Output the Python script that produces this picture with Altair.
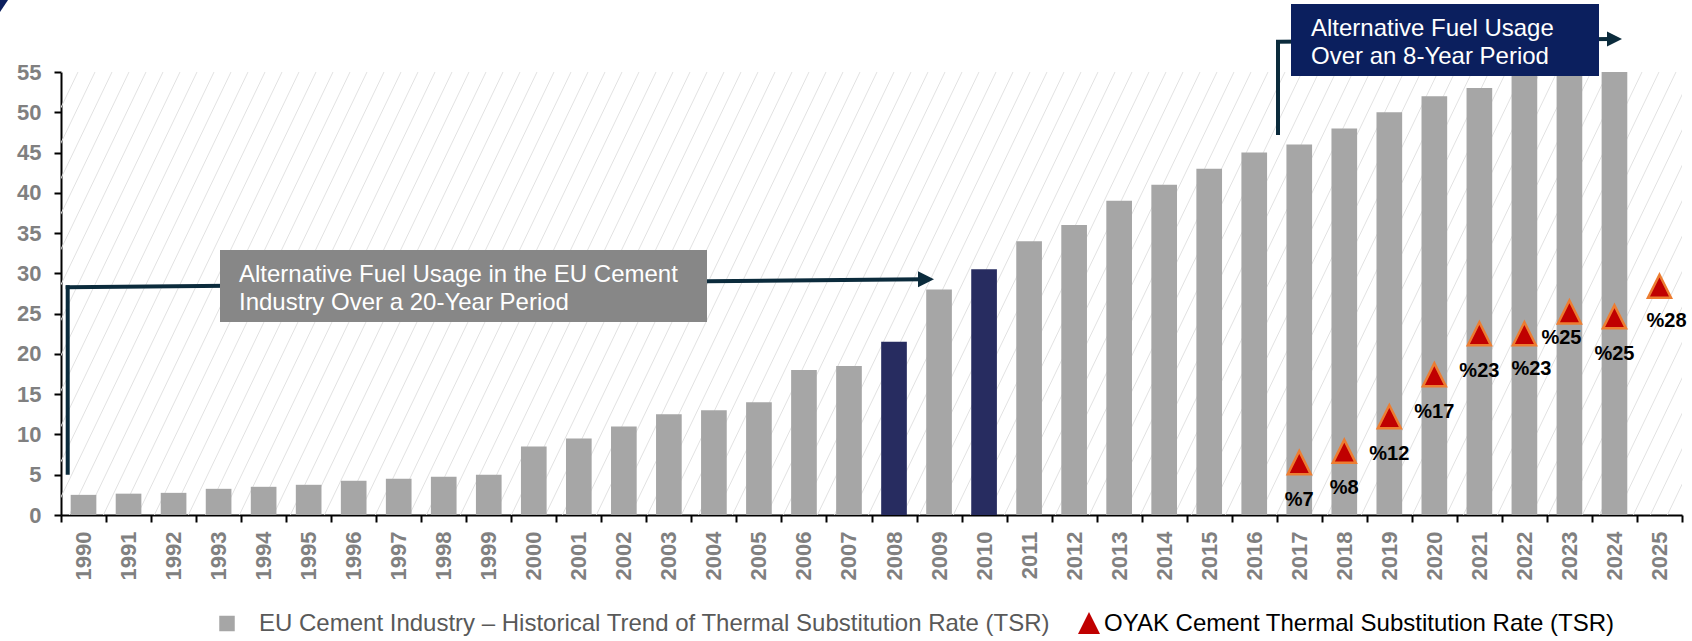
import altair as alt
import pandas as pd

# ---------------- data ----------------
YEARS = [str(y) for y in range(1990, 2026)]
EU_TSR = [2.5, 2.65, 2.75, 3.25, 3.5, 3.75, 4.25, 4.5, 4.75, 5.0,
          8.5, 9.5, 11.0, 12.5, 13.0, 14.0, 18.0, 18.5, 21.5, 28.0,
          30.5, 34.0, 36.0, 39.0, 41.0, 43.0, 45.0, 46.0, 48.0, 50.0,
          52.0, 53.0, 55.0, 55.0, 55.0, None]
HIGHLIGHT_YEARS = ["2008", "2010"]

OYAK_YEARS = ["2017", "2018", "2019", "2020", "2021", "2022", "2023", "2024", "2025"]
OYAK_TSR = [6.5, 7.9, 12.2, 17.4, 22.5, 22.5, 25.2, 24.6, 28.4]
OYAK_LABELS = ["%7", "%8", "%12", "%17", "%23", "%23", "%25", "%25", "%28"]

Y_TICKS = list(range(0, 56, 5))

LEGEND_EU = "EU Cement Industry \u2013 Historical Trend of Thermal Substitution Rate (TSR)"
LEGEND_OYAK = "OYAK Cement Thermal Substitution Rate (TSR)"
ANNOT_20Y = ["Alternative Fuel Usage in the EU Cement", "Industry Over a 20-Year Period"]
ANNOT_8Y = ["Alternative Fuel Usage", "Over an 8-Year Period"]

# ---------------- layout / style ----------------
W, H = 1621, 443
FONT = "Liberation Sans"
NAVY_LINE = "#0b2b3c"
BAR_GRAY = "#a6a6a6"
BAR_NAVY = "#272c60"
BOX_NAVY = "#0b1f5e"
BOX_GRAY = "#878787"

eu_df = pd.DataFrame({"year": YEARS, "tsr": EU_TSR}).dropna()
oyak_df = pd.DataFrame({"year": OYAK_YEARS, "tsr": OYAK_TSR, "label": OYAK_LABELS})

x_scale = alt.Scale(domain=YEARS, paddingInner=0, paddingOuter=0)
y_scale = alt.Scale(domain=[0, 55], nice=False)

x_axis = alt.Axis(
    title=None, labelAngle=-90, labelAlign="right", labelBaseline="middle",
    labelFont=FONT, labelFontSize=22, labelFontWeight="bold", labelColor="#808080",
    tickBand="extent", tickSize=7, tickColor="black", tickWidth=2,
    domainColor="black", domainWidth=2, labelPadding=9, grid=False,
)
y_axis = alt.Axis(
    title=None, values=Y_TICKS, labelFont=FONT, labelFontSize=22,
    labelFontWeight="bold", labelColor="#808080", tickSize=7, tickColor="black",
    tickWidth=2, domainColor="black", domainWidth=2, labelPadding=13, grid=False,
)

# background hatch (decoration, pixel space)
hatch = alt.Chart(alt.sequence(-20, 112, as_="k")).transform_calculate(
    xt="datum.k * 17", xb="datum.k * 17 - 0.48 * 443"
).mark_rule(color="#e2e2e2", strokeWidth=1, clip=True).encode(
    x=alt.X("xt:Q", scale=None, axis=None),
    x2="xb:Q",
    y=alt.value(0),
    y2=alt.value(H),
)

bars = alt.Chart(eu_df).mark_bar(width=alt.RelativeBandSize(0.57)).encode(
    x=alt.X("year:N", scale=x_scale, axis=x_axis, sort=YEARS),
    y=alt.Y("tsr:Q", scale=y_scale, axis=y_axis),
    color=alt.condition(
        alt.FieldOneOfPredicate(field="year", oneOf=HIGHLIGHT_YEARS),
        alt.value(BAR_NAVY), alt.value(BAR_GRAY)),
)

# ------------- annotation 1 (20-year) -------------
a1_v = alt.Chart().mark_rule(color=NAVY_LINE, strokeWidth=4, strokeCap="square").encode(
    x=alt.value(6.7), y=alt.value(215.3), y2=alt.value(400.7))
a1_h = alt.Chart().mark_rule(color=NAVY_LINE, strokeWidth=4, strokeCap="square").encode(
    x=alt.value(6.7), y=alt.value(215.3), x2=alt.value(860), y2=alt.value(207.2))
a1_head = alt.Chart().mark_point(shape="M-1,-1L1,0L-1,1Z", filled=True, opacity=1,
                                 color=NAVY_LINE, size=256).encode(
    x=alt.value(865), y=alt.value(207.2))
a1_box = alt.Chart().mark_rect(color=BOX_GRAY).encode(
    x=alt.value(159), x2=alt.value(646), y=alt.value(178), y2=alt.value(250))
a1_text = alt.Chart().mark_text(align="left", baseline="middle", font=FONT, fontSize=24,
                                lineHeight=28, color="white").encode(
    x=alt.value(178), y=alt.value(203), text=alt.value(ANNOT_20Y))

# ------------- annotation 2 (8-year) -------------
a2_v = alt.Chart().mark_rule(color=NAVY_LINE, strokeWidth=4, strokeCap="square").encode(
    x=alt.value(1217), y=alt.value(-30), y2=alt.value(61))
a2_h = alt.Chart().mark_rule(color=NAVY_LINE, strokeWidth=4, strokeCap="square").encode(
    x=alt.value(1217), y=alt.value(-30.3), x2=alt.value(1548), y2=alt.value(-33))
a2_head = alt.Chart().mark_point(shape="M-1,-1L1,0L-1,1Z", filled=True, opacity=1,
                                 color=NAVY_LINE, size=225).encode(
    x=alt.value(1553.5), y=alt.value(-33))
a2_box = alt.Chart().mark_rect(color=BOX_NAVY).encode(
    x=alt.value(1230), x2=alt.value(1538), y=alt.value(-68), y2=alt.value(4))
a2_text = alt.Chart().mark_text(align="left", baseline="middle", font=FONT, fontSize=24,
                                lineHeight=28, color="white").encode(
    x=alt.value(1250), y=alt.value(-43), text=alt.value(ANNOT_8Y))

# ------------- OYAK triangles + labels -------------
tri = alt.Chart(oyak_df).mark_point(
    shape="M0,-1L1,1L-1,1Z", filled=True, opacity=1, size=529,
    fill="#c00000", stroke="#ed7d31", strokeWidth=2.5,
).encode(
    x=alt.X("year:N", scale=x_scale, sort=YEARS),
    y=alt.Y("tsr:Q", scale=y_scale),
)

lab_base = alt.Chart(oyak_df).encode(
    x=alt.X("year:N", scale=x_scale, sort=YEARS),
    y=alt.Y("tsr:Q", scale=y_scale),
    text="label:N",
)
lab_style = dict(font=FONT, fontSize=20, fontWeight="bold", color="black",
                 align="center", baseline="middle")
lab_main = lab_base.transform_filter(
    alt.FieldOneOfPredicate(field="year", oneOf=["2017", "2018", "2019", "2020", "2021", "2024"])
).mark_text(dy=37, **lab_style)
lab_right = lab_base.transform_filter(
    alt.FieldOneOfPredicate(field="year", oneOf=["2022", "2025"])
).mark_text(dx=7, dy=35, **lab_style)
lab_left = lab_base.transform_filter(
    alt.FieldOneOfPredicate(field="year", oneOf=["2023"])
).mark_text(dx=-8, dy=26, **lab_style)

# ------------- manual legend -------------
leg_sq = alt.Chart().mark_square(size=240, color=BAR_GRAY, opacity=1).encode(
    x=alt.value(166), y=alt.value(551.5))
leg_eu = alt.Chart().mark_text(align="left", baseline="middle", font=FONT, fontSize=24,
                               color="#595959").encode(
    x=alt.value(198), y=alt.value(552), text=alt.value(LEGEND_EU))
leg_tri = alt.Chart().mark_point(shape="M0,-1L1,1L-1,1Z", filled=True, opacity=1,
                                 color="#c00000", size=484).encode(
    x=alt.value(1028), y=alt.value(551))
leg_oyak = alt.Chart().mark_text(align="left", baseline="middle", font=FONT, fontSize=24,
                                 color="black").encode(
    x=alt.value(1043), y=alt.value(552), text=alt.value(LEGEND_OYAK))

# corner logo fragment
corner = alt.Chart().mark_point(shape="M-0.67,-1L0.67,-1L-0.67,1Z", filled=True, opacity=1,
                                color="#0b1f5e", size=144).encode(
    x=alt.value(-57), y=alt.value(-66))

chart = alt.layer(
    hatch, bars, a1_v, a1_h, a1_head, a1_box, a1_text,
    a2_v, a2_h, a2_head, a2_box, a2_text,
    tri, lab_main, lab_right, lab_left,
    leg_sq, leg_eu, leg_tri, leg_oyak, corner,
).properties(
    width=W, height=H,
    autosize=alt.AutoSizeParams(type="none"),
    padding={"left": 61, "top": 72, "right": 10, "bottom": 126},
    background="white",
).configure_view(stroke=None)

chart.save("out.html", embed_options={"renderer": "svg", "actions": False})
